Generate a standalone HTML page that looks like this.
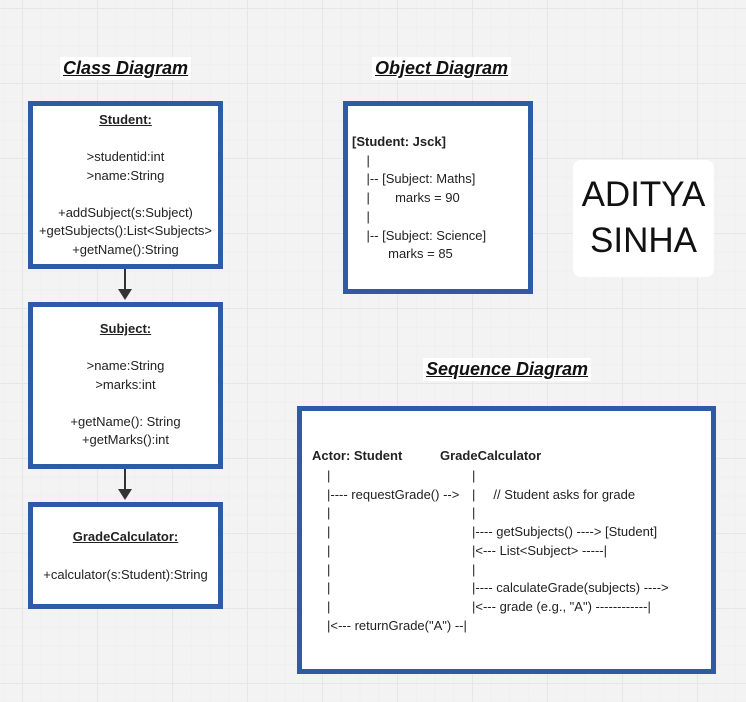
<!DOCTYPE html>
<html><head><style>
body{margin:0;width:746px;height:702px;overflow:hidden;background:#f3f3f4;font-family:"Liberation Sans",sans-serif;position:relative;
background-image:linear-gradient(#e6e6e8 1px,transparent 1px),linear-gradient(90deg,#e6e6e8 1px,transparent 1px),linear-gradient(#efeff0 1px,transparent 1px),linear-gradient(90deg,#efeff0 1px,transparent 1px);
background-size:75px 75px,75px 75px,18.75px 18.75px,18.75px 18.75px;background-position:22px 8px,22px 8px,22px 8px,22px 8px;}
.a{position:absolute;white-space:pre;font-size:13px;color:#222;line-height:16px}
.box{position:absolute;background:#fff;border:5px solid #2f5aa6;box-sizing:border-box}
.t{position:absolute;font-weight:bold;font-style:italic;text-decoration:underline;font-size:18px;background:#fff;padding:1px 3px;color:#111}
.c{position:absolute;text-align:center;font-size:13px;line-height:18.5px;color:#222;white-space:pre}
.b{font-weight:bold}
</style></head><body>
<div class="t" style="left:60px;top:57px">Class Diagram</div>
<div class="t" style="left:372px;top:57px">Object Diagram</div>
<div class="t" style="left:423px;top:358px">Sequence Diagram</div>

<div class="box" style="left:28px;top:101px;width:195px;height:168px"></div>
<div class="c" style="left:28px;width:195px;top:111px"><b><u>Student:</u></b>

&gt;studentid:int
&gt;name:String

+addSubject(s:Subject)
+getSubjects():List&lt;Subjects&gt;
+getName():String</div>

<div class="box" style="left:28px;top:302px;width:195px;height:167px"></div>
<div class="c" style="left:28px;width:195px;top:320px"><b><u>Subject:</u></b>

&gt;name:String
&gt;marks:int

+getName(): String
+getMarks():int</div>

<div class="box" style="left:28px;top:502px;width:195px;height:107px"></div>
<div class="c" style="left:28px;width:195px;top:527px;line-height:19px"><b><u>GradeCalculator:</u></b>

+calculator(s:Student):String</div>

<svg style="position:absolute;left:0;top:0" width="746" height="702">
<line x1="125" y1="269" x2="125" y2="292" stroke="#333" stroke-width="2"/>
<polygon points="118,289 132,289 125,300" fill="#333"/>
<line x1="125" y1="469" x2="125" y2="492" stroke="#333" stroke-width="2"/>
<polygon points="118,489 132,489 125,500" fill="#333"/>
</svg>

<div class="box" style="left:343px;top:101px;width:190px;height:193px"></div>
<div class="a" style="left:352px;top:133px;line-height:18.7px"><b>[Student: Jsck]</b>
    |
    |-- [Subject: Maths]
    |       marks = 90
    |
    |-- [Subject: Science]
          marks = 85</div>

<div style="position:absolute;left:573px;top:160px;width:141px;height:117px;background:#fff;border-radius:8px"></div>
<div style="position:absolute;left:573px;top:172px;width:141px;text-align:center;font-size:35px;line-height:46px;color:#111">ADITYA<br>SINHA</div>

<div class="box" style="left:297px;top:406px;width:419px;height:268px"></div>
<div class="a" style="left:312px;top:448px;font-weight:bold">Actor: Student</div>
<div class="a" style="left:440px;top:448px;font-weight:bold">GradeCalculator</div>
<div class="a" style="left:327px;top:467px;line-height:18.7px">|
|---- requestGrade() -->
|
|
|
|
|
|
|&lt;--- returnGrade("A") --|</div>
<div class="a" style="left:472px;top:467px;line-height:18.7px">|
|     // Student asks for grade
|
|---- getSubjects() ----> [Student]
|&lt;--- List&lt;Subject&gt; -----|
|
|---- calculateGrade(subjects) ---->
|&lt;--- grade (e.g., "A") ------------|</div>
</body></html>
